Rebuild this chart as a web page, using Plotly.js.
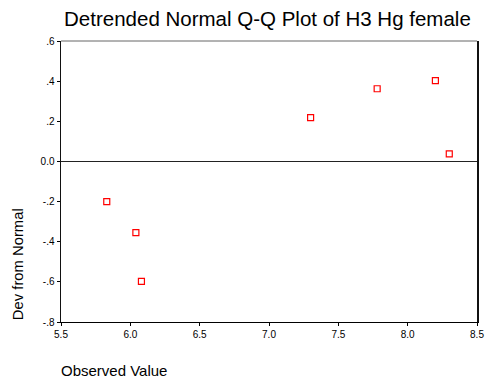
<!DOCTYPE html>
<html>
<head>
<meta charset="utf-8">
<script src="https://cdn.plot.ly/plotly-3.0.1.min.js"></script>
<style>html,body{margin:0;padding:0;background:#fff;}#chart{width:488px;height:381px;}</style>
</head>
<body>
<div id="chart"></div>
<script>
var observedValue = [5.83, 6.04, 6.08, 7.30, 7.78, 8.20, 8.30];
var devFromNormal = [-0.20, -0.355, -0.598, 0.218, 0.362, 0.403, 0.038];
var yTickVals = [0.6, 0.4, 0.2, 0, -0.2, -0.4, -0.6, -0.8];
var yTickText = ['.6', '.4', '.2', '0.0', '-.2', '-.4', '-.6', '-.8'];
var xTickVals = [5.5, 6.0, 6.5, 7.0, 7.5, 8.0, 8.5];
var xTickText = ['5.5', '6.0', '6.5', '7.0', '7.5', '8.0', '8.5'];

var font = 'Liberation Sans, Arial, sans-serif';
var trace = {
  x: observedValue, y: devFromNormal, type: 'scatter', mode: 'markers',
  marker: {symbol: 'square-open', size: 6, color: '#ff0000', line: {width: 1.2, color: '#ff0000'}},
  hoverinfo: 'none', showlegend: false
};
var layout = {
  width: 488, height: 381,
  margin: {l: 61, r: 11, t: 41, b: 59},
  paper_bgcolor: '#fff', plot_bgcolor: '#fff',
  font: {family: font, color: '#000'},
  title: {text: 'Detrended Normal Q-Q Plot of H3 Hg female', font: {family: font, size: 20.5, color: '#000'},
          x: 0.548, xanchor: 'center', y: 0.95, yanchor: 'middle'},
  xaxis: {range: [5.5, 8.5], tickvals: xTickVals, ticktext: xTickText, showgrid: false, zeroline: false,
          showline: true, mirror: false, linecolor: '#000', linewidth: 1,
          ticks: 'outside', ticklen: 3, tickcolor: '#000', tickfont: {size: 10, family: font}},
  yaxis: {range: [-0.8, 0.6], tickvals: yTickVals, ticktext: yTickText, showgrid: false, zeroline: true,
          zerolinecolor: '#222', zerolinewidth: 1,
          showline: true, mirror: true, linecolor: '#111', linewidth: 1.5,
          ticks: 'outside', ticklen: 3, tickcolor: '#000', tickfont: {size: 10, family: font}},
  shapes: [
    {type: 'line', xref: 'paper', yref: 'paper', x0: 0, x1: 1, y0: 1, y1: 1, line: {color: '#666', width: 1}}
  ],
  annotations: [
    {text: 'Dev from Normal', xref: 'paper', yref: 'paper', x: -0.103, y: 0, xanchor: 'center', yanchor: 'bottom',
     textangle: -90, showarrow: false, font: {family: font, size: 14.8, color: '#000'}},
    {text: 'Observed Value', xref: 'paper', yref: 'paper', x: -0.005, y: -0.174, xanchor: 'left', yanchor: 'middle',
     showarrow: false, font: {family: font, size: 15, color: '#000'}}
  ]
};
Plotly.newPlot('chart', [trace], layout, {displayModeBar: false, staticPlot: true});
</script>
</body>
</html>
